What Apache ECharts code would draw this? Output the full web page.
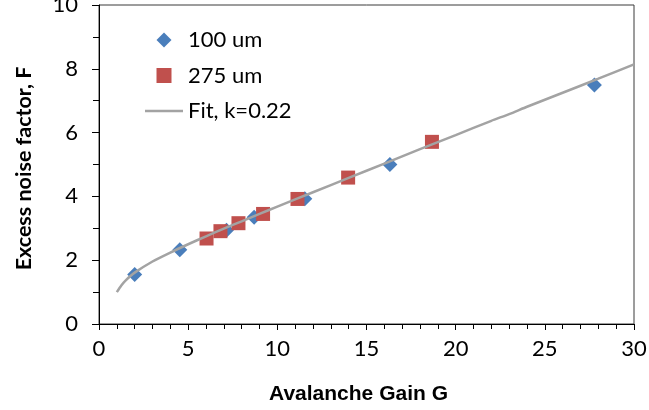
<!DOCTYPE html>
<html>
<head>
<meta charset="utf-8">
<script src="https://cdn.jsdelivr.net/npm/echarts@6/dist/echarts.min.js"></script>
<style>
  html, body { margin: 0; padding: 0; background: #ffffff; }
  #chart { width: 649px; height: 410px; }
</style>
</head>
<body>
<div id="chart"></div>
<script>
// 100 um detector (blue diamonds)
const gain100 = [2.00, 4.53, 7.15, 8.70, 11.54, 16.31, 27.78];
const f100    = [1.55, 2.33, 2.94, 3.35, 3.93, 5.00, 7.49];
// 275 um detector (red squares)
const gain275 = [6.03, 6.81, 7.82, 9.20, 11.13, 13.97, 18.67];
const f275    = [2.68, 2.91, 3.16, 3.45, 3.92, 4.59, 5.71];
// Fit curve, k = 0.22
const gainFit = [1, 1.25, 1.5, 2, 3, 4, 5, 6, 7, 8, 9, 10, 12, 14, 16, 18, 20, 22, 23, 24, 26, 28, 30];
const fFit    = [1.00, 1.21, 1.37, 1.61, 1.96, 2.24, 2.50, 2.75, 2.99, 3.22, 3.45, 3.68, 4.13, 4.58, 5.03, 5.48, 5.92, 6.37, 6.58, 6.81, 7.25, 7.69, 8.14];

const seriesNames = ['100 um', '275 um', 'Fit, k=0.22'];
const xTitle = 'Avalanche Gain G';
const yTitle = 'Excess noise factor, F';

const zip = (a, b) => a.map((v, i) => [v, b[i]]);

const chart = echarts.init(document.getElementById('chart'), null, { renderer: 'canvas' });
const labelFont = 'Lato, "Open Sans", sans-serif';

chart.setOption({
  animation: false,
  backgroundColor: '#ffffff',
  grid: {
    left: 99, right: 15, top: 5, bottom: 86,
    containLabel: false, outerBoundsMode: 'none',
    show: true, borderColor: '#3a3a3a', borderWidth: 1, backgroundColor: 'transparent'
  },
  legend: {
    data: [
      { name: seriesNames[0], icon: 'path://M0,-1L1,0L0,1L-1,0Z' },
      { name: seriesNames[1], icon: 'path://M0,0L1,0L1,1L0,1Z' },
      { name: seriesNames[2], icon: 'path://M0,0L38,0L38,2.5L0,2.5Z' }
    ],
    orient: 'vertical',
    left: 145, top: 29,
    padding: 0,
    itemWidth: 38, itemHeight: 15,
    itemGap: 13.5,
    symbolKeepAspect: true,
    textStyle: { fontFamily: labelFont, fontSize: 22, color: '#000', lineHeight: 22 }
  },
  xAxis: {
    type: 'value', min: 0, max: 30, interval: 5,
    name: xTitle, nameLocation: 'middle', nameGap: 60,
    nameTextStyle: { fontFamily: '"Liberation Sans", Arial, sans-serif', fontWeight: 'bold', fontSize: 21, color: '#000', padding: [0, 16, 0, 0] },
    axisLine: { show: true, lineStyle: { color: '#000', width: 1 } },
    axisTick: { show: true, length: 6, lineStyle: { color: '#000' } },
    minorTick: { show: true, splitNumber: 5, length: 5, lineStyle: { color: '#000' } },
    splitLine: { show: false },
    axisLabel: { fontFamily: labelFont, fontSize: 22, color: '#000', margin: 14 }
  },
  yAxis: {
    type: 'value', min: 0, max: 10, interval: 2,
    name: yTitle, nameLocation: 'middle', nameGap: 64,
    nameTextStyle: { fontFamily: labelFont, fontWeight: 'bold', fontSize: 21.5, color: '#000', padding: [0, 8, 0, 0] },
    axisLine: { show: true, lineStyle: { color: '#000', width: 1 } },
    axisTick: { show: true, length: 7, lineStyle: { color: '#000' } },
    minorTick: { show: true, splitNumber: 2, length: 6, lineStyle: { color: '#000' } },
    splitLine: { show: false },
    axisLabel: { fontFamily: labelFont, fontSize: 22, color: '#000', margin: 21 }
  },
  series: [
    {
      name: seriesNames[2], type: 'line', data: zip(gainFit, fFit),
      symbol: 'none', smooth: 0.2,
      lineStyle: { color: '#a3a3a3', width: 2.5 },
      itemStyle: { color: '#a3a3a3' }
    },
    {
      name: seriesNames[0], type: 'scatter', data: zip(gain100, f100),
      symbol: 'diamond', symbolSize: 15,
      itemStyle: { color: '#4a7ebb', opacity: 1 }
    },
    {
      name: seriesNames[1], type: 'scatter', data: zip(gain275, f275),
      symbol: 'rect', symbolSize: 14,
      itemStyle: { color: '#c0504d', opacity: 1 }
    }
  ]
});
</script>
</body>
</html>
